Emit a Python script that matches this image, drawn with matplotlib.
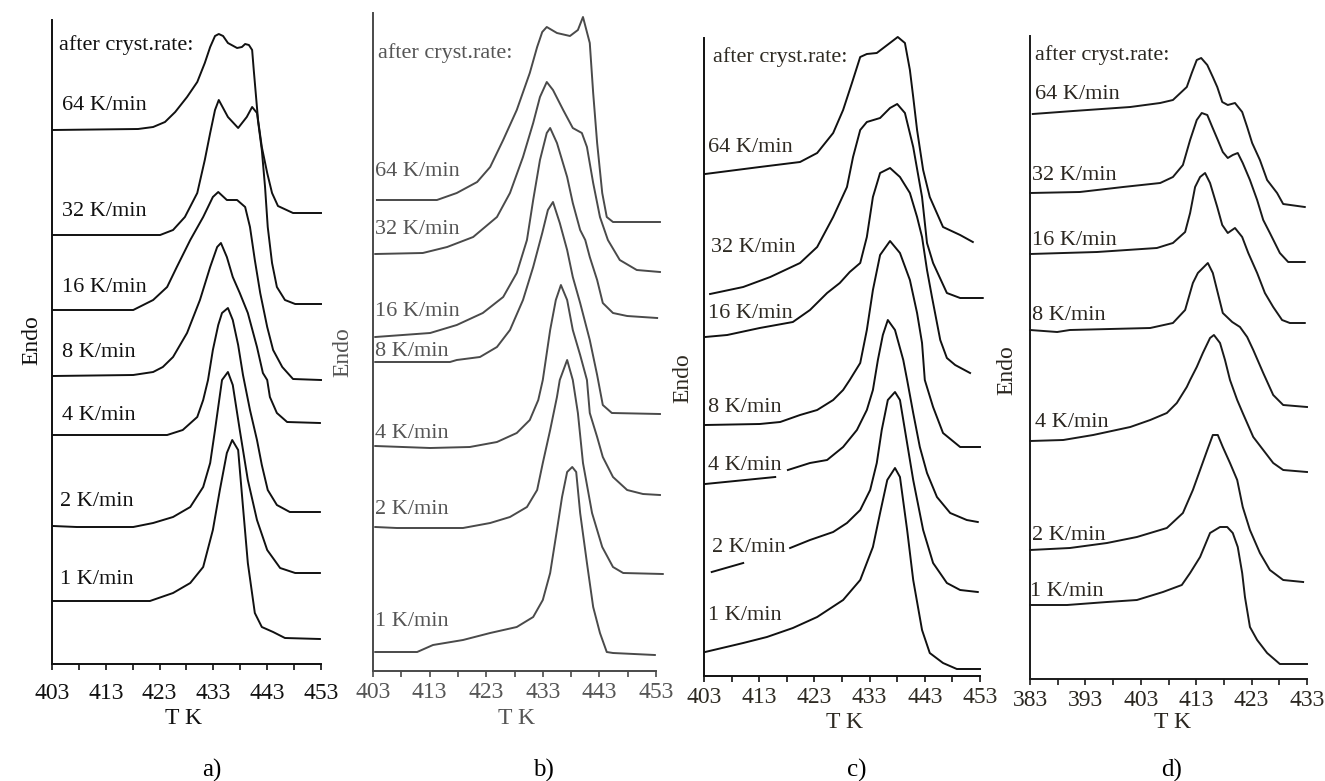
import numpy as np
import matplotlib.pyplot as plt

plt.rcParams['font.family'] = ['Liberation Serif', 'DejaVu Serif']

# rate labels (top to bottom)
rates = ['64 K/min', '32 K/min', '16 K/min', '8 K/min', '4 K/min', '2 K/min', '1 K/min']
header = 'after cryst.rate:'

# ---- panel a) temperature (K) and endo signal (arb. units) ----
a64_T = [403.2, 419.0, 421.8, 424.0, 425.9, 428.1, 430.0, 431.4, 432.4, 433.3, 434.0, 434.8, 435.7, 437.4,
         438.3, 438.9, 439.6, 440.2, 440.5, 440.9, 441.3, 442.0, 443.0, 443.9, 445.0, 447.8, 453.0]
a64_h = [534, 535, 537, 542, 552, 567, 582, 601, 617, 628, 630, 628, 621, 616,
         617, 620, 619, 614, 594, 569, 544, 517, 491, 471, 458, 451, 451]
a32_T = [403.2, 423.1, 425.5, 427.7, 430.0, 431.4, 432.4, 433.3, 434.0, 435.7, 437.6, 439.2, 440.2, 441.1,
         442.0, 442.6, 443.1, 443.9, 444.8, 446.3, 448.2, 453.0]
a32_h = [429, 429, 434, 447, 471, 504, 531, 554, 564, 547, 536, 547, 557, 551,
         514, 477, 437, 401, 377, 364, 360, 360]
a16_T = [403.2, 418.1, 421.8, 424.4, 426.2, 428.7, 431.1, 432.9, 433.9, 435.5, 437.4, 438.9, 439.8, 440.7,
         441.7, 443.0, 444.1, 445.8, 447.8, 453.0]
a16_h = [354, 354, 364, 377, 397, 424, 447, 467, 472, 464, 464, 457, 437, 404,
         371, 337, 314, 297, 285, 284]
a8_T = [403.2, 418.1, 421.8, 423.6, 425.5, 428.1, 430.5, 432.4, 433.7, 434.4, 435.5, 436.6, 437.9, 439.4,
        441.1, 442.2, 443.0, 443.5, 444.8, 446.7, 452.8]
a8_h = [288, 289, 292, 297, 307, 331, 364, 397, 417, 421, 407, 387, 371, 351,
        317, 291, 284, 267, 251, 242, 241]
a4_T = [403.2, 424.4, 427.3, 430.0, 431.1, 432.0, 432.9, 433.9, 434.6, 435.7, 436.6, 437.6, 438.5, 439.8,
        441.1, 442.0, 443.1, 444.8, 447.2, 452.8]
a4_h = [229, 229, 234, 247, 264, 284, 314, 339, 351, 356, 344, 319, 289, 254,
        224, 199, 174, 159, 152, 152]
a2_T = [403.2, 407.6, 418.1, 421.8, 425.5, 428.7, 431.1, 432.4, 433.3, 434.6, 435.7, 436.6, 437.9, 439.4,
        441.1, 443.0, 445.4, 448.2, 452.8]
a2_h = [138, 137, 137, 141, 147, 157, 177, 201, 234, 284, 292, 279, 234, 184,
        144, 114, 96, 91, 91]
a1_T = [403.2, 421.2, 425.5, 428.7, 431.1, 432.9, 434.2, 435.5, 436.5, 437.6, 438.5, 439.4, 440.7, 442.0,
        444.1, 446.3, 452.8]
a1_h = [63, 63, 71, 81, 97, 134, 174, 211, 224, 214, 157, 101, 51, 37, 32, 26, 25]

# ---- panel b) ----
b64_T = [403.7, 414.3, 417.8, 421.4, 423.7, 426.0, 428.4, 430.7, 432.0, 432.9, 433.7, 435.5, 437.8, 439.2,
         440.1, 441.3, 441.9, 442.6, 443.5, 444.3, 445.4, 453.7]
b64_h = [471, 471, 478, 489, 504, 531, 561, 598, 624, 639, 644, 638, 635, 641,
         654, 628, 578, 528, 478, 454, 449, 449]
b32_T = [403.4, 411.8, 416.1, 420.7, 424.9, 427.2, 429.5, 431.3, 432.5, 433.7, 434.8, 436.6, 438.3, 439.9,
         440.8, 441.9, 443.1, 444.5, 446.6, 449.6, 453.7]
b32_h = [417, 418, 424, 434, 454, 478, 514, 548, 574, 589, 581, 561, 543, 538,
         524, 488, 454, 431, 411, 401, 399]
b16_T = [403.4, 413.1, 417.8, 422.4, 426.0, 428.4, 430.2, 431.3, 432.5, 433.7, 434.3, 435.5, 437.3, 438.3,
         439.6, 440.5, 441.3, 442.6, 443.6, 445.4, 447.9, 453.2]
b16_h = [334, 338, 346, 358, 374, 398, 431, 471, 511, 538, 543, 528, 494, 468,
         441, 431, 414, 391, 368, 358, 355, 353]
b8_T = [403.4, 416.6, 417.8, 421.9, 424.9, 427.2, 429.5, 431.3, 432.9, 433.9, 434.8, 436.0, 437.3, 438.3,
        439.6, 441.3, 442.6, 443.6, 445.2, 453.7]
b8_h = [309, 309, 311, 314, 324, 341, 371, 404, 438, 461, 469, 448, 421, 394,
        368, 331, 296, 266, 258, 257]
b4_T = [403.4, 413.1, 420.1, 424.9, 428.4, 430.7, 432.2, 433.0, 434.3, 435.3, 436.2, 437.3, 438.3, 439.6,
        440.8, 441.3, 442.6, 443.6, 445.4, 447.9, 450.7, 453.7]
b4_h = [225, 223, 224, 229, 238, 251, 271, 291, 341, 371, 386, 371, 341, 316,
        291, 258, 234, 214, 194, 181, 177, 176]
b2_T = [403.4, 407.2, 418.9, 423.7, 427.2, 430.2, 432.0, 433.0, 434.3, 435.5, 436.0, 437.3, 438.3, 439.2,
        440.1, 441.7, 443.5, 445.4, 447.2, 454.2]
b2_h = [144, 143, 143, 148, 154, 164, 181, 208, 241, 274, 291, 311, 291, 258,
        208, 158, 124, 104, 98, 97]
b1_T = [403.4, 410.8, 413.6, 418.9, 423.7, 428.4, 431.3, 433.0, 434.3, 435.5, 436.4, 437.3, 438.2, 438.9,
        439.6, 440.8, 441.9, 443.1, 444.3, 445.4, 452.8]
b1_h = [19, 19, 26, 31, 38, 44, 54, 71, 98, 141, 174, 199, 204, 199,
        158, 108, 64, 38, 19, 18, 16]

# ---- panel c) ----
c64_T = [403.2, 413.1, 420.4, 423.5, 426.4, 428.2, 429.8, 431.3, 432.5, 434.3, 436.2, 438.1, 439.4, 440.3,
         440.9, 441.6, 442.7, 443.9, 446.3, 449.4, 451.7]
c64_h = [502, 509, 514, 523, 543, 566, 593, 619, 622, 623, 631, 639, 633, 606,
         579, 546, 506, 479, 449, 441, 434]
c32_T = [404.1, 410.1, 415.0, 420.4, 423.5, 426.4, 428.9, 430.0, 431.3, 432.5, 434.9, 436.7, 438.0, 439.4,
         440.9, 442.5, 443.4, 444.5, 447.0, 449.4, 453.5]
c32_h = [382, 389, 399, 413, 429, 459, 489, 519, 546, 554, 558, 568, 572, 563,
         529, 479, 433, 413, 383, 378, 378]
c16_T = [403.2, 407.2, 413.1, 419.1, 422.2, 425.3, 427.6, 429.4, 431.3, 432.5, 433.6, 434.9, 436.7, 438.5,
         440.3, 441.6, 442.5, 443.4, 444.3, 445.8, 447.0, 448.5, 451.2]
c16_h = [339, 341, 348, 354, 366, 383, 393, 404, 413, 439, 479, 503, 508, 499,
         483, 459, 439, 406, 379, 336, 318, 311, 303]
c8_T = [403.2, 413.1, 416.8, 420.4, 423.5, 426.4, 428.2, 429.4, 431.3, 432.5, 433.6, 434.9, 436.7, 438.5,
        440.3, 441.6, 442.5, 443.0, 444.5, 446.3, 449.4, 453.0]
c8_h = [251, 252, 254, 261, 266, 276, 286, 296, 313, 346, 386, 421, 435, 423,
        396, 363, 333, 296, 269, 243, 229, 229]
c4_T = [403.2, 415.9, np.nan, 418.2, 422.2, 425.3, 428.2, 430.7, 432.5, 433.6, 434.5, 435.4, 436.3, 437.6,
        439.1, 439.8, 440.9, 442.1, 443.4, 445.2, 447.6, 450.6, 452.6]
c4_h = [192, 199, np.nan, 206, 213, 216, 229, 246, 266, 286, 316, 341, 356, 346,
        316, 296, 263, 229, 203, 179, 163, 156, 154]
c2_T = [404.4, 410.1, np.nan, 418.6, 422.2, 426.4, 428.9, 431.3, 433.1, 434.3, 435.2, 436.3, 437.6, 438.5,
        439.4, 440.9, 442.7, 444.5, 447.0, 449.4, 452.6]
c2_h = [104, 113, np.nan, 128, 136, 144, 153, 166, 186, 213, 246, 276, 284, 276,
        246, 196, 146, 113, 93, 86, 84]
c1_T = [403.2, 410.1, 414.4, 419.1, 423.5, 428.2, 431.3, 433.6, 434.9, 436.2, 437.6, 438.5, 439.8, 440.9,
        442.5, 443.9, 446.3, 448.8, 453.0]
c1_h = [24, 33, 39, 48, 59, 76, 96, 129, 163, 196, 208, 199, 146, 96,
        46, 23, 13, 7, 7]

# ---- panel d) ----
d64_T = [383.5, 390.8, 401.1, 406.5, 408.8, 411.3, 412.2, 413.1, 413.9, 415.0, 416.0, 416.8, 417.7, 418.7,
         420.0, 421.3, 422.2, 423.1, 424.5, 425.8, 427.6, 428.7, 432.6]
d64_h = [565, 568, 572, 576, 579, 592, 606, 619, 621, 614, 602, 592, 577, 574,
         576, 567, 552, 536, 519, 499, 486, 475, 472]
d32_T = [383.0, 392.0, 399.8, 406.5, 408.8, 410.6, 411.9, 413.1, 414.0, 415.0, 415.9, 416.9, 417.8, 418.7,
         419.6, 420.5, 421.4, 422.7, 424.0, 425.1, 426.3, 428.1, 429.6, 432.6]
d32_h = [486, 487, 492, 496, 502, 514, 539, 559, 566, 564, 552, 539, 527, 521,
         524, 526, 516, 499, 479, 459, 446, 426, 417, 417]
d16_T = [383.0, 395.1, 405.9, 408.8, 411.0, 411.9, 412.8, 413.7, 414.6, 415.5, 416.8, 417.7, 418.7, 420.0,
         421.3, 422.4, 424.0, 425.4, 426.9, 428.5, 429.9, 432.6]
d16_h = [425, 427, 431, 436, 447, 466, 492, 502, 506, 496, 472, 454, 446, 451,
         442, 426, 406, 386, 372, 359, 356, 356]
d8_T = [383.0, 387.9, 390.2, 404.7, 408.8, 411.0, 412.4, 413.3, 415.1, 416.0, 416.9, 417.8, 419.5, 420.9,
        422.2, 423.3, 425.1, 426.9, 428.7, 433.0]
d8_h = [349, 347, 349, 351, 356, 369, 396, 406, 416, 406, 386, 366, 357, 352,
        342, 329, 306, 284, 274, 272]
d4_T = [383.0, 389.0, 394.4, 401.1, 404.7, 407.7, 409.5, 411.3, 411.9, 413.1, 414.2, 415.5, 416.2, 417.3,
        418.2, 419.1, 420.4, 421.4, 423.3, 425.1, 426.9, 428.7, 433.0]
d4_h = [238, 239, 244, 252, 259, 266, 276, 292, 299, 312, 326, 341, 344, 336,
        319, 299, 279, 266, 242, 229, 216, 209, 207]
d2_T = [383.0, 390.2, 396.9, 402.3, 407.7, 410.6, 412.4, 413.7, 415.0, 416.0, 416.9, 417.8, 419.1, 420.4,
        421.4, 422.7, 424.5, 426.3, 428.7, 432.3]
d2_h = [129, 131, 136, 142, 151, 166, 189, 209, 229, 244, 244, 232, 216, 199,
        172, 149, 126, 109, 99, 97]
d1_T = [383.0, 389.7, 396.9, 402.3, 407.0, 410.4, 411.9, 413.7, 415.5, 417.3, 418.6, 419.6, 420.5, 421.3,
        421.8, 422.7, 424.0, 425.8, 428.1, 433.0]
d1_h = [74, 74, 77, 79, 87, 94, 106, 122, 146, 152, 152, 146, 132, 106,
        82, 52, 39, 26, 15, 15]

W, H = 1325, 781
fig = plt.figure(figsize=(W / 100, H / 100), dpi=100)

panels = [
    dict(box=(52, 20, 321, 664), t0=403, tag='a)', color='#111111', tcolor='#111111', pad=10,
         curves=[(a64_T, a64_h), (a32_T, a32_h), (a16_T, a16_h), (a8_T, a8_h),
                 (a4_T, a4_h), (a2_T, a2_h), (a1_T, a1_h)],
         lab_x=[59, 62, 62, 62, 62, 62, 60, 60],
         lab_y=[45, 105, 212, 287, 352, 416, 501, 579],
         endo=(32, 340), tk=(183, 718), sub=(212, 770)),
    dict(box=(373, 13, 656, 671), t0=403, tag='b)', color='#4a4a4a', tcolor='#555555', pad=4,
         curves=[(b64_T, b64_h), (b32_T, b32_h), (b16_T, b16_h), (b8_T, b8_h),
                 (b4_T, b4_h), (b2_T, b2_h), (b1_T, b1_h)],
         lab_x=[378, 375, 375, 375, 375, 375, 375, 375],
         lab_y=[53, 172, 229, 312, 352, 433, 510, 622],
         endo=(343, 352), tk=(517, 719), sub=(543, 770)),
    dict(box=(704, 38, 980, 676), t0=403, tag='c)', color='#111111', tcolor='#2e2a22', pad=4,
         curves=[(c64_T, c64_h), (c32_T, c32_h), (c16_T, c16_h), (c8_T, c8_h),
                 (c4_T, c4_h), (c2_T, c2_h), (c1_T, c1_h)],
         lab_x=[713, 708, 711, 708, 708, 708, 712, 708],
         lab_y=[57, 147, 248, 313, 408, 465, 548, 615],
         endo=(683, 378), tk=(845, 722), sub=(857, 770)),
    dict(box=(1030, 36, 1307, 679), t0=383, tag='d)', color='#1a1a1a', tcolor='#2a2620', pad=4,
         curves=[(d64_T, d64_h), (d32_T, d32_h), (d16_T, d16_h), (d8_T, d8_h),
                 (d4_T, d4_h), (d2_T, d2_h), (d1_T, d1_h)],
         lab_x=[1035, 1035, 1032, 1032, 1032, 1035, 1032, 1030],
         lab_y=[55, 95, 176, 241, 316, 423, 535, 592],
         endo=(1007, 370), tk=(1172, 722), sub=(1172, 770)),
]

fs = 16
for p in panels:
    l, t, r, b = p['box']
    ax = fig.add_axes([l / W, 1 - b / H, (r - l) / W, (b - t) / H])
    t0 = p['t0']
    ax.set_xlim(t0, t0 + 50)
    ax.set_ylim(0, b - t)
    for T, h in p['curves']:
        ax.plot(T, h, color=p['color'], lw=1.4, clip_on=False)
    for s in ['top', 'right']:
        ax.spines[s].set_visible(False)
    for s in ['left', 'bottom']:
        ax.spines[s].set_linewidth(1.4)
        ax.spines[s].set_color(p['color'])
    ax.set_yticks([])
    ax.set_xticks(np.arange(t0, t0 + 51, 10))
    ax.set_xticks(np.arange(t0, t0 + 51, 5), minor=True)
    ax.tick_params(axis='x', which='both', direction='out', length=4, width=1.2,
                   labelsize=17, pad=p['pad'], colors=p['color'], labelcolor=p['tcolor'])
    ax.patch.set_alpha(0)

    # rate labels, positioned in data units
    scale = (r - l) / 50.0
    texts = [header] + rates
    for txt, px, py in zip(texts, p['lab_x'], p['lab_y']):
        ax.text(t0 + (px - l) / scale, b - py, txt, fontsize=fs, color=p['tcolor'],
                ha='left', va='center')

    ex, ey = p['endo']
    fig.text(ex / W, 1 - ey / H, 'Endo', rotation=90, fontsize=17, color=p['tcolor'],
             ha='center', va='center')
    tx, ty = p['tk']
    fig.text(tx / W, 1 - ty / H, 'T K', fontsize=17, color=p['tcolor'], ha='center', va='center')
    sx, sy = p['sub']
    fig.text(sx / W, 1 - sy / H, p['tag'], fontsize=18, color='black', ha='center', va='center')

fig.savefig('out.png', dpi=100)
